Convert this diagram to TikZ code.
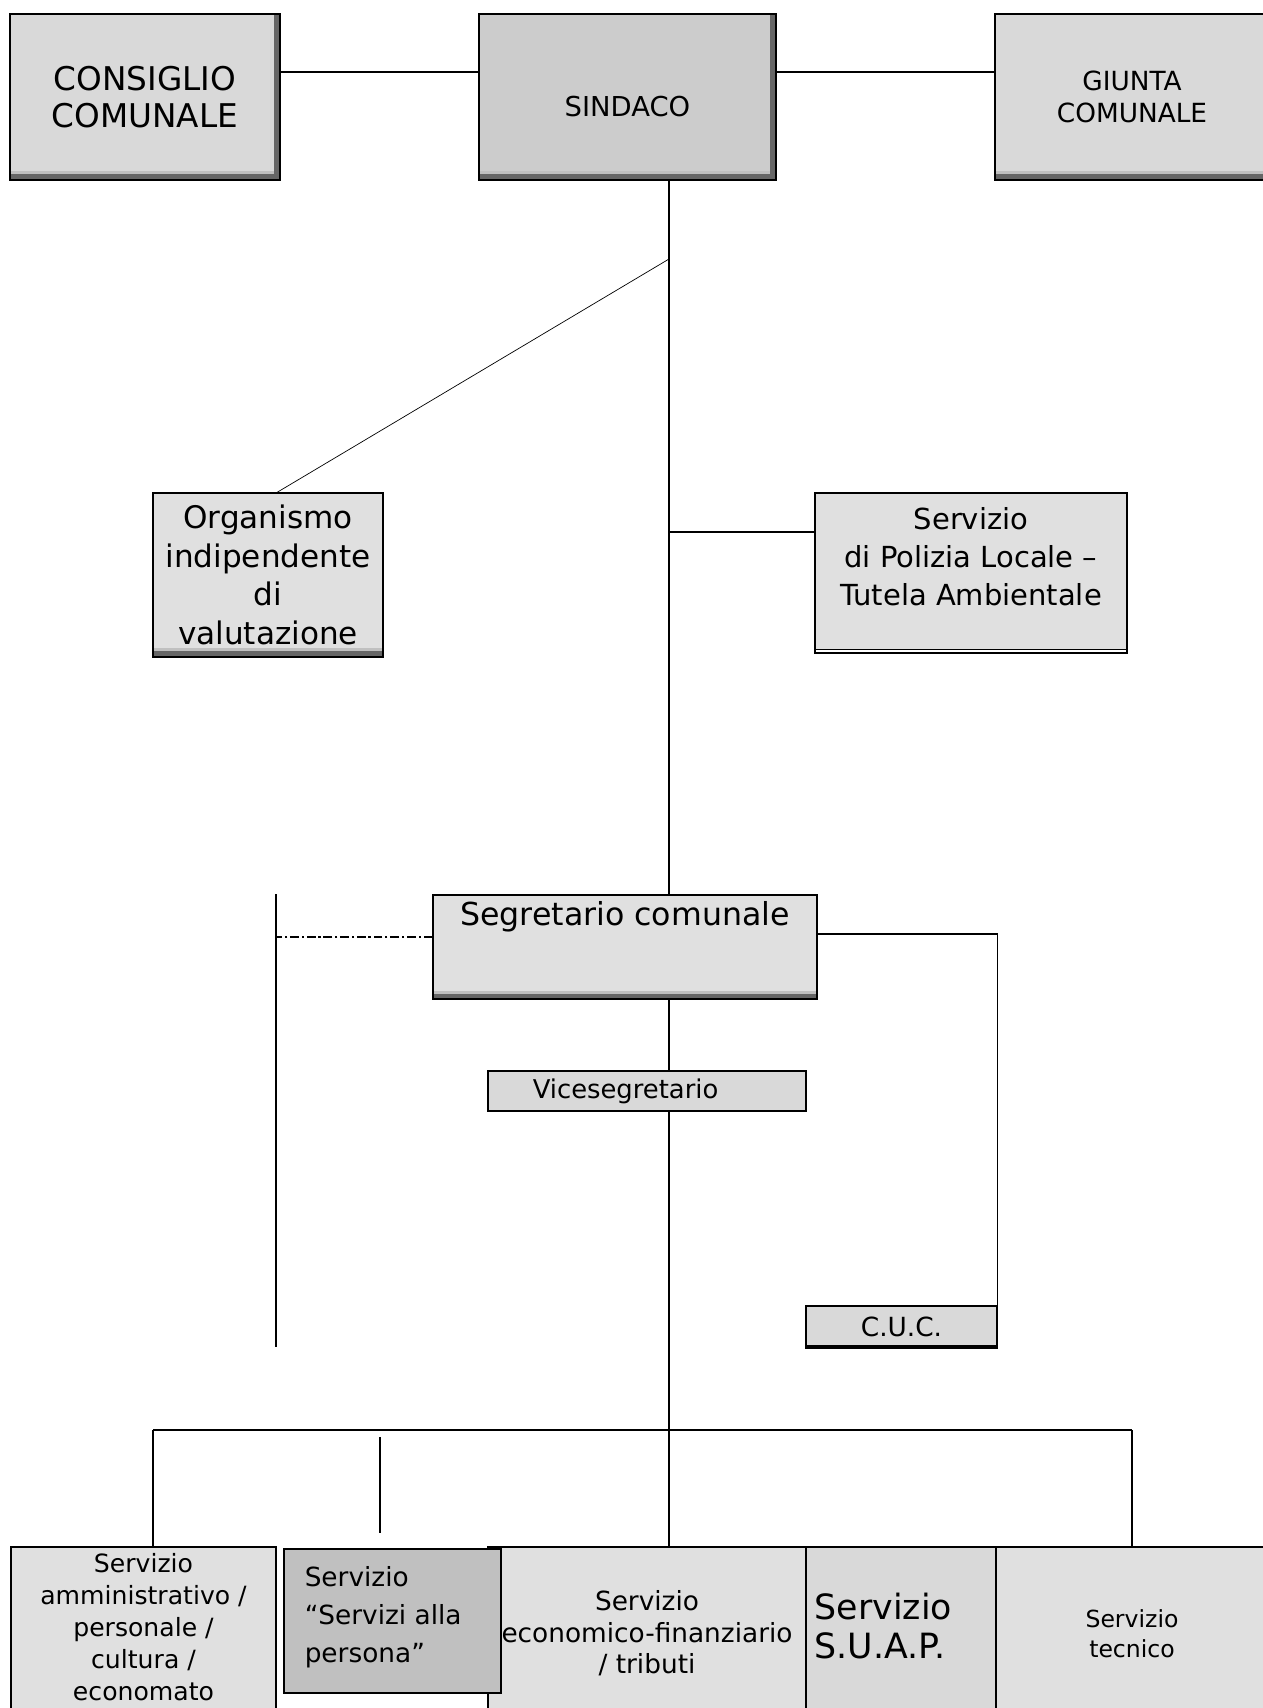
\documentclass[tikz,border=0pt]{standalone}
\usepackage{fontspec}
\setmainfont{DejaVu Sans}
\usetikzlibrary{positioning,calc}

\definecolor{boxgray}{HTML}{E0E0E0}
\definecolor{midgray}{HTML}{D9D9D9}
\definecolor{topgray}{HTML}{CCCCCC}
\definecolor{darkbox}{HTML}{C0C0C0}
\definecolor{shadedark}{HTML}{666666}
\definecolor{shadelight}{HTML}{C0C0C0}

\tikzset{
  box/.style={draw,line width=0.7pt,rectangle,inner sep=0pt,align=center,fill=boxgray},
  botshade/.style={path picture={
    \fill[shadedark] (path picture bounding box.south west) rectangle ([yshift=0.11cm]path picture bounding box.south east);
    \fill[shadelight] ([yshift=0.11cm]path picture bounding box.south west) rectangle ([yshift=0.17cm]path picture bounding box.south east);}},
  cornershade/.style={path picture={
    \fill[shadedark] (path picture bounding box.south west) rectangle ([yshift=0.11cm]path picture bounding box.south east);
    \fill[shadelight] ([yshift=0.11cm]path picture bounding box.south west) rectangle ([xshift=-0.11cm,yshift=0.17cm]path picture bounding box.south east);
    \fill[shadedark] ([xshift=-0.11cm]path picture bounding box.north east) rectangle (path picture bounding box.south east);}},
  doublebase/.style={path picture={
    \fill[white] (path picture bounding box.south west) rectangle ([yshift=0.05cm]path picture bounding box.south east);
    \draw[line width=0.9pt] ([yshift=0.07cm]path picture bounding box.south west) -- ([yshift=0.07cm]path picture bounding box.south east);}},
  thickbase/.style={path picture={
    \fill[black] (path picture bounding box.south west) rectangle ([yshift=0.07cm]path picture bounding box.south east);}},
  txt/.style={inner sep=0pt,align=center},
  link/.style={line width=0.7pt},
  dashdotline/.style={line width=0.8pt,dash pattern=on 5pt off 1.6pt on 1.3pt off 1.6pt}
}

\begin{document}
\begin{tikzpicture}[x=0.02cm,y=-0.02cm]
\path[use as bounding box,clip] (0,0) rectangle (1263,1708);
\fill[white] (0,0) rectangle (1263,1708);

% organi di governo
\node[box,cornershade,fill=midgray,minimum width=5.4cm,minimum height=3.32cm,font=\fontsize{18.6}{21.5}\selectfont] (cons) at (145,97) {CONSIGLIO\\COMUNALE};
\node[box,cornershade,fill=topgray,minimum width=5.94cm,minimum height=3.32cm] (sind) at (627.5,97) {};
\node[txt,font=\fontsize{15.6}{18}\selectfont] (sindt) at ([yshift=-0.2cm]sind.center) {SINDACO};
\node[box,botshade,fill=midgray,minimum width=5.48cm,minimum height=3.32cm,font=\fontsize{15}{17.8}\selectfont] (giun) at (1132,97) {GIUNTA\\COMUNALE};

% staff
\node[box,botshade,minimum width=4.6cm,minimum height=3.28cm,font=\fontsize{17.7}{22}\selectfont] (org) at (268,575) {Organismo\\indipendente\\di\\valutazione};
\node[box,doublebase,minimum width=6.24cm,minimum height=3.2cm] (pol) at (971,573) {};
\node[txt,font=\fontsize{16.5}{21.6}\selectfont] (polt) at ([yshift=0.32cm]pol.center) {Servizio\\di Polizia Locale --\\Tutela Ambientale};

% segreteria
\node[box,botshade,minimum width=7.68cm,minimum height=2.08cm] (seg) at (625,947) {};
\node[txt,font=\fontsize{18}{21}\selectfont] (segt) at ([yshift=0.6cm]seg.center) {Segretario comunale};
\node[box,fill=midgray,minimum width=6.36cm,minimum height=0.8cm] (vice) at (647,1091) {};
\node[txt,anchor=west,font=\fontsize{14.7}{17}\selectfont] (vicet) at ([xshift=0.9cm]vice.west) {Vicesegretario};
\node[box,thickbase,fill=midgray,minimum width=3.82cm,minimum height=0.84cm,font=\fontsize{15}{17}\selectfont] (cuc) at (901.5,1327) {C.U.C.};

% servizi
\node[box,minimum width=5.3cm,minimum height=3.46cm] (s1) at (143.5,1633.5) {};
\node[txt,font=\fontsize{14.3}{18.2}\selectfont] (s1t) at ([yshift=0.12cm]s1.center) {Servizio\\amministrativo /\\personale /\\cultura /\\economato};
\node[box,minimum width=6.36cm,minimum height=3.46cm,font=\fontsize{15}{18}\selectfont] (s3) at (647,1633.5) {Servizio\\economico-finanziario\\/ tributi};
\node[box,fill=darkbox,minimum width=4.34cm,minimum height=2.88cm] (s2) at (392.5,1621) {};
\node[txt,anchor=west,align=left,font=\fontsize{15}{21.6}\selectfont] (s2t) at ([xshift=0.42cm,yshift=0.08cm]s2.west) {Servizio\\“Servizi alla\\persona”};
\node[box,fill=midgray,minimum width=3.8cm,minimum height=3.46cm] (s4) at (901,1633.5) {};
\node[txt,anchor=west,align=left,font=\fontsize{19.8}{22.4}\selectfont] (s4t) at ([xshift=0.18cm,yshift=0.15cm]s4.west) {Servizio\\S.U.A.P.};
\node[box,minimum width=5.44cm,minimum height=3.46cm,font=\fontsize{13.4}{17}\selectfont] (s5) at (1132,1633.5) {Servizio\\tecnico};

% punti di snodo
\coordinate (bus) at (669,1430);
\coordinate (busl) at (153,1430);
\coordinate (busr) at (1132,1430);
\coordinate (j1) at (669,259);
\coordinate (j2) at (669,532);
\coordinate (lltop) at (276,894);
\coordinate (llbot) at (276,1347);
\coordinate (sa) at (380,1437);
\coordinate (sb) at (380,1533);

\draw[link] ([yshift=0.5cm]cons.east) -- ([yshift=0.5cm]sind.west);
\draw[link] ([yshift=0.5cm]sind.east) -- ([yshift=0.5cm]giun.west);
\draw[link] (sind.south -| bus) -- (seg.north -| bus);
\draw[thin] (j1) -- ([xshift=0.18cm]org.north);
\draw[link] (j2) -- (pol.west |- j2);
\draw[link] (lltop) -- (llbot);
\draw[dashdotline] ([yshift=0.2cm]seg.west) -- ([yshift=0.2cm]seg.west -| lltop);
\draw[link] ([yshift=0.26cm]seg.east) -| (cuc.south east);
\draw[link] (seg.south -| bus) -- (vice.north -| bus);
\draw[link] (vice.south -| bus) -- (bus);
\draw[link] (busl) -- (busr);
\draw[link] (busl) -- (busl |- s1.north);
\draw[link] (bus) -- (bus |- s3.north);
\draw[link] (busr) -- (busr |- s5.north);
\draw[link] (sa) -- (sb);
\end{tikzpicture}
\end{document}
